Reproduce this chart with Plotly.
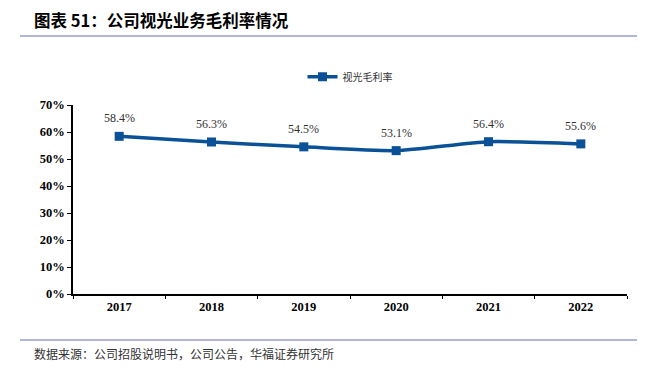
import plotly.graph_objects as go

years = ["2017", "2018", "2019", "2020", "2021", "2022"]
margin_vals = [0.584, 0.563, 0.545, 0.531, 0.564, 0.556]
labels = ["58.4%", "56.3%", "54.5%", "53.1%", "56.4%", "55.6%"]
y_ticks = [0, 0.1, 0.2, 0.3, 0.4, 0.5, 0.6, 0.7]
y_tick_text = ["0%", "10%", "20%", "30%", "40%", "50%", "60%", "70%"]

blue = "#0b5197"
# page body has an 8px default margin; figure sized to fill the rest of the window
W, H = 637, 367
L, R, T, B = 65, 18, 97, 81

fig = go.Figure()
fig.add_trace(go.Scatter(
    x=years, y=margin_vals, name="视光毛利率",
    mode="lines+markers",
    line=dict(color=blue, width=3.5, shape="spline", smoothing=0.6),
    marker=dict(symbol="square", size=9, color=blue),
    cliponaxis=False,
))

fig.update_layout(
    width=W, height=H,
    margin=dict(l=L, r=R, t=T, b=B),
    paper_bgcolor="white", plot_bgcolor="white",
    showlegend=True,
    legend=dict(orientation="h", x=0.5, xanchor="center", y=1.15, yanchor="middle",
                font=dict(family="Noto Sans CJK SC", size=10, color="#333333"),
                itemwidth=30),
    xaxis=dict(type="category", categoryorder="array", categoryarray=years,
               range=[-0.5, len(years) - 0.5],
               showline=True, linecolor="black", linewidth=1.5,
               ticks="outside", ticklen=3, tickson="boundaries", tickcolor="black",
               tickfont=dict(family="Liberation Serif", size=12.5, color="black", weight="bold"),
               showgrid=False),
    yaxis=dict(range=[0, 0.7], tickvals=y_ticks, ticktext=y_tick_text,
               showline=True, linecolor="black", linewidth=1.5,
               ticks="outside", ticklen=4, tickcolor="black",
               tickfont=dict(family="Liberation Serif", size=12.5, color="black", weight="bold"),
               showgrid=False, zeroline=False),
)

for i, (v, t) in enumerate(zip(margin_vals, labels)):
    fig.add_annotation(x=i, y=v, xref="x", yref="y", text=t, showarrow=False, yshift=18,
                       font=dict(family="Liberation Serif", size=12, color="#333333"))

plot_h = H - T - B
plot_w = W - L - R
def py(ypx):
    return (H - B - (ypx - 8)) / plot_h
def px(xpx):
    return ((xpx - 8) - L) / plot_w

fig.add_shape(type="line", xref="paper", yref="paper", x0=px(20), x1=px(639),
              y0=py(36), y1=py(36), line=dict(color="#6b6bb5", width=1.2))
fig.add_shape(type="line", xref="paper", yref="paper", x0=px(20), x1=px(639),
              y0=py(340), y1=py(340), line=dict(color="#6b6bb5", width=1.2))

fig.add_annotation(xref="paper", yref="paper", x=px(32), y=py(20), xanchor="left", yanchor="middle",
                   text="<b>图表 51：公司视光业务毛利率情况</b>", showarrow=False,
                   font=dict(family="Noto Sans CJK SC", size=16.5, color="black"))
fig.add_annotation(xref="paper", yref="paper", x=px(32), y=py(353), xanchor="left", yanchor="middle",
                   text="数据来源：公司招股说明书，公司公告，华福证券研究所", showarrow=False,
                   font=dict(family="Noto Sans CJK SC", size=12, color="#333333"))

fig.write_html("out.html")
